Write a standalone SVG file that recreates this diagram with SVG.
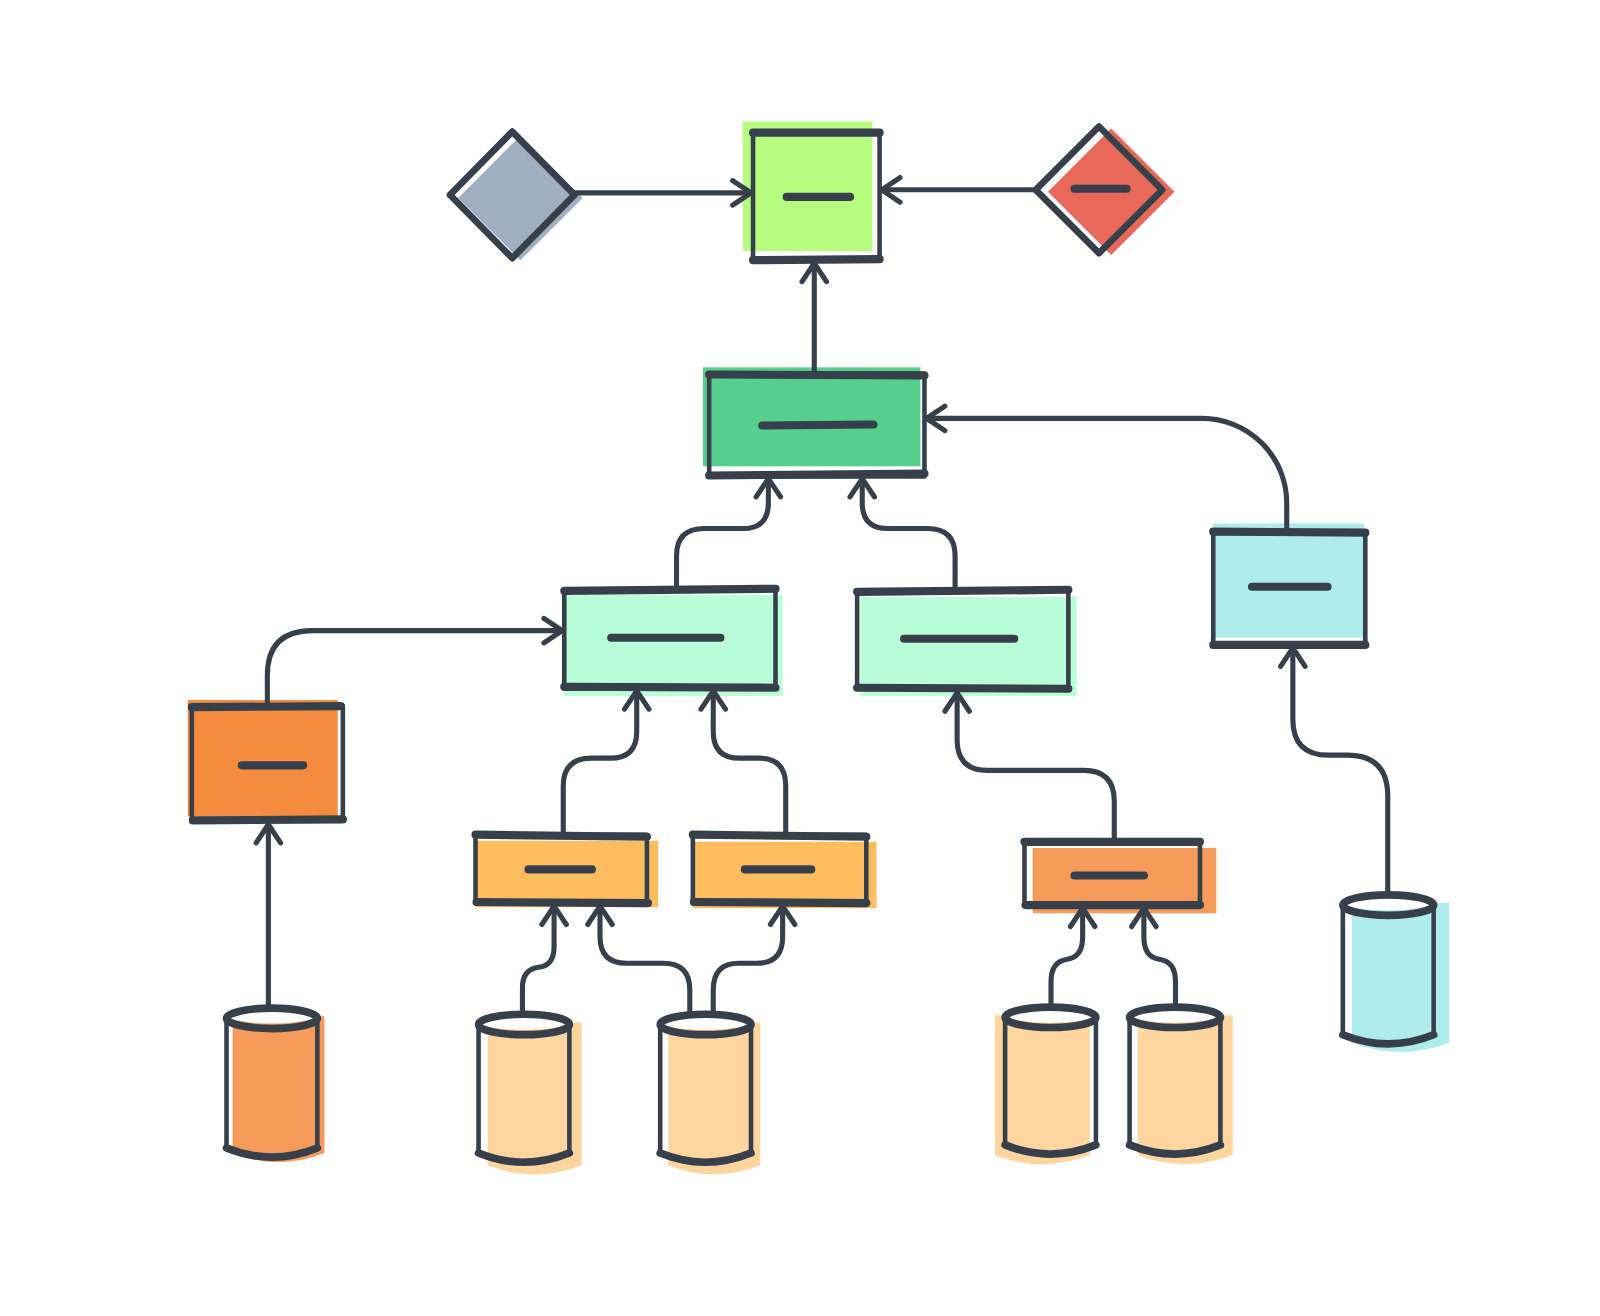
<svg xmlns="http://www.w3.org/2000/svg" width="1600" height="1316" viewBox="0 0 1600 1316">
<defs>
<style>
.o{fill:none;stroke:#37404a;stroke-width:4.5;stroke-linecap:round;stroke-linejoin:round}
.t{fill:none;stroke:#37404a;stroke-width:8;stroke-linecap:round}
.d{stroke:#37404a;stroke-width:8;stroke-linecap:round}
.c{fill:none;stroke:#37404a;stroke-width:5;stroke-linecap:round;stroke-linejoin:round;marker-end:url(#arr)}
.dm{fill:none;stroke:#37404a;stroke-width:6.5;stroke-linejoin:round}
.ce{fill:none;stroke:#37404a;stroke-width:7.5}
.cw{fill:#fff}
.cb{fill:none;stroke:#37404a;stroke-width:7.5;stroke-linecap:round}
</style>
<marker id="arr" viewBox="-22 -16 26 32" refX="0" refY="0" markerWidth="26" markerHeight="32" markerUnits="userSpaceOnUse" orient="auto">
<path d="M-18,-12 L0,0 L-18,12" fill="none" stroke="#37404a" stroke-width="5" stroke-linecap="round" stroke-linejoin="round"/>
</marker>
</defs>
<rect width="1600" height="1316" fill="#ffffff"/>
<g transform="scale(1.0204)">
<g id="nodes">
<g id="gray-diamond">
<polygon points="510,133 571,194 510,255 449,194" fill="#a0afc0"/>
<polygon class="dm" points="502,129 563,191 502,253 441,191"/>
</g>
<g id="lime-box">
<rect x="728" y="119" width="127" height="127" fill="#b6fd7f"/>
<rect class="o" x="738" y="130" width="124" height="125"/>
<line class="t" x1="738" y1="130" x2="862" y2="130"/>
<line class="t" x1="738" y1="255" x2="862" y2="254"/>
<line class="d" x1="771" y1="193" x2="833" y2="193"/>
</g>
<g id="red-diamond">
<polygon points="1089,126 1151,188 1089,250 1027,188" fill="#e8695a"/>
<polygon class="dm" points="1077,124 1139,186 1077,248 1015,186"/>
<line class="d" x1="1053" y1="185" x2="1104" y2="185"/>
</g>
<g id="green-box">
<rect x="689" y="360" width="213" height="97" fill="#55cf8b"/>
<rect class="o" x="695" y="366" width="211" height="101"/>
<line class="t" x1="695" y1="367" x2="906" y2="368"/>
<line class="t" x1="695" y1="466" x2="906" y2="464"/>
<line class="d" x1="747" y1="417" x2="856" y2="416"/>
</g>
<g id="cyan-box">
<rect x="1189" y="513" width="148" height="112" fill="#aeecec"/>
<rect class="o" x="1189" y="521" width="149" height="111"/>
<line class="t" x1="1189" y1="521" x2="1338" y2="522"/>
<line class="t" x1="1189" y1="632" x2="1338" y2="632"/>
<line class="d" x1="1227" y1="575" x2="1301" y2="575"/>
</g>
<g id="mint-box-1">
<rect x="553" y="583" width="214" height="99" fill="#b8fed8"/>
<rect class="o" x="553" y="578" width="207" height="97"/>
<line class="t" x1="553" y1="579" x2="760" y2="577"/>
<line class="t" x1="553" y1="673" x2="760" y2="674"/>
<line class="d" x1="599" y1="625" x2="706" y2="625"/>
</g>
<g id="mint-box-2">
<rect x="843" y="585" width="212" height="97" fill="#b8fed8"/>
<rect class="o" x="840" y="579" width="207" height="95"/>
<line class="t" x1="840" y1="580" x2="1047" y2="578"/>
<line class="t" x1="840" y1="674" x2="1047" y2="675"/>
<line class="d" x1="886" y1="626" x2="994" y2="626"/>
</g>
<g id="orange-box">
<rect x="184" y="686" width="147" height="114" fill="#f48b3f"/>
<rect class="o" x="188" y="692" width="148" height="112"/>
<line class="t" x1="188" y1="693" x2="334" y2="692"/>
<line class="t" x1="189" y1="804" x2="336" y2="803"/>
<line class="d" x1="237" y1="750" x2="297" y2="750"/>
</g>
<g id="yellow-box-1">
<rect x="466" y="824" width="179" height="65" fill="#fdbd5e"/>
<rect class="o" x="466" y="818" width="168" height="67"/>
<line class="t" x1="466" y1="818" x2="634" y2="820"/>
<line class="t" x1="467" y1="884" x2="635" y2="885"/>
<line class="d" x1="518" y1="852" x2="580" y2="852"/>
</g>
<g id="yellow-box-2">
<rect x="679" y="825" width="180" height="65" fill="#fdbd5e"/>
<rect class="o" x="679" y="818" width="170" height="67"/>
<line class="t" x1="679" y1="818" x2="849" y2="820"/>
<line class="t" x1="680" y1="884" x2="849" y2="885"/>
<line class="d" x1="730" y1="852" x2="795" y2="852"/>
</g>
<g id="orange-box-2">
<rect x="1012" y="831" width="180" height="64" fill="#f59a58"/>
<rect class="o" x="1004" y="825" width="172" height="62"/>
<line class="t" x1="1004" y1="825" x2="1176" y2="825"/>
<line class="t" x1="1005" y1="887" x2="1176" y2="887"/>
<line class="d" x1="1053" y1="858" x2="1121" y2="858"/>
</g>
<g id="cyl-orange">
<path d="M228,996 H318 V1130 Q273,1148 228,1130 Z" fill="#f59a58"/>
<ellipse class="cw" cx="266.5" cy="996" rx="42" ry="7"/>
<path class="o" d="M222,998 V1125 M311,998 V1125"/>
<path class="cb" d="M222,1125 Q266,1143 311,1125"/>
<ellipse class="ce" cx="266.5" cy="998" rx="44.5" ry="10"/>
</g>
<g id="cyl-1">
<path d="M478,1002 H570 V1142 Q524,1160 478,1142 Z" fill="#fed59f"/>
<ellipse class="cw" cx="513.5" cy="1002" rx="42" ry="7"/>
<path class="o" d="M469,1004 V1130 M558,1004 V1130"/>
<path class="cb" d="M469,1130 Q513,1148 558,1130"/>
<ellipse class="ce" cx="513.5" cy="1004" rx="44.5" ry="10"/>
</g>
<g id="cyl-2">
<path d="M655,1002 H745 V1142 Q700,1160 655,1142 Z" fill="#fed59f"/>
<ellipse class="cw" cx="691.5" cy="1002" rx="42" ry="7"/>
<path class="o" d="M647,1004 V1130 M736,1004 V1130"/>
<path class="cb" d="M647,1130 Q691,1148 736,1130"/>
<ellipse class="ce" cx="691.5" cy="1004" rx="44.5" ry="10"/>
</g>
<g id="cyl-3">
<path d="M975,995 H1068 V1132 Q1021,1150 975,1132 Z" fill="#fed59f"/>
<ellipse class="cw" cx="1029.5" cy="995" rx="42" ry="7"/>
<path class="o" d="M985,997 V1122 M1074,997 V1122"/>
<path class="cb" d="M985,1122 Q1029,1140 1074,1122"/>
<ellipse class="ce" cx="1029.5" cy="997" rx="44.5" ry="10"/>
</g>
<g id="cyl-4">
<path d="M1115,995 H1208 V1132 Q1161,1150 1115,1132 Z" fill="#fed59f"/>
<ellipse class="cw" cx="1151.5" cy="995" rx="42" ry="7"/>
<path class="o" d="M1107,997 V1122 M1196,997 V1122"/>
<path class="cb" d="M1107,1122 Q1151,1140 1196,1122"/>
<ellipse class="ce" cx="1151.5" cy="997" rx="44.5" ry="10"/>
</g>
<g id="cyl-cyan">
<path d="M1325,885 H1420 V1022 Q1372,1040 1325,1022 Z" fill="#aeecec"/>
<ellipse class="cw" cx="1360.5" cy="885" rx="42" ry="7"/>
<path class="o" d="M1316,887 V1014 M1405,887 V1014"/>
<path class="cb" d="M1316,1014 Q1360,1032 1405,1014"/>
<ellipse class="ce" cx="1360.5" cy="887" rx="44.5" ry="10"/>
</g>
</g>
<g id="connectors">
<path class="c" d="M563,189 H736"/>
<path class="c" d="M1015,186 H864"/>
<path class="c" d="M798,364 V258"/>
<path class="c" d="M1261,519 V493 A83,83 0 0 0 1178,410 H908"/>
<path class="c" d="M663,576 V545 Q663,518 690,518 H728 Q753,518 753,493 V469"/>
<path class="c" d="M936,577 V545 Q936,518 909,518 H870 Q845,518 845,493 V469"/>
<path class="c" d="M262,690 V662 Q262,618 306,618 H551"/>
<path class="c" d="M552,816 V770 Q552,743 580,743 H598 Q624,743 624,717 V677"/>
<path class="c" d="M770,816 V770 Q770,743 744,743 H725 Q699,743 699,717 V677"/>
<path class="c" d="M1092,823 V785 Q1092,755 1062,755 H968 Q938,755 938,725 V679"/>
<path class="c" d="M1360,877 V780 Q1360,740 1320,740 H1302 Q1267,740 1267,705 V635"/>
<path class="c" d="M263,987 V808"/>
<path class="c" d="M512,994 V968 Q512,950 528,948 Q543,946 543,928 V888"/>
<path class="c" d="M676,994 V970 Q676,944 650,944 H614 Q588,944 588,918 V888"/>
<path class="c" d="M699,994 V970 Q699,944 724,944 H742 Q767,944 767,918 V888"/>
<path class="c" d="M1030,987 V962 Q1030,942 1046,940 Q1061,938 1061,918 V890"/>
<path class="c" d="M1152,987 V962 Q1152,942 1136,940 Q1121,938 1121,918 V890"/>
</g>
</g>
</svg>
